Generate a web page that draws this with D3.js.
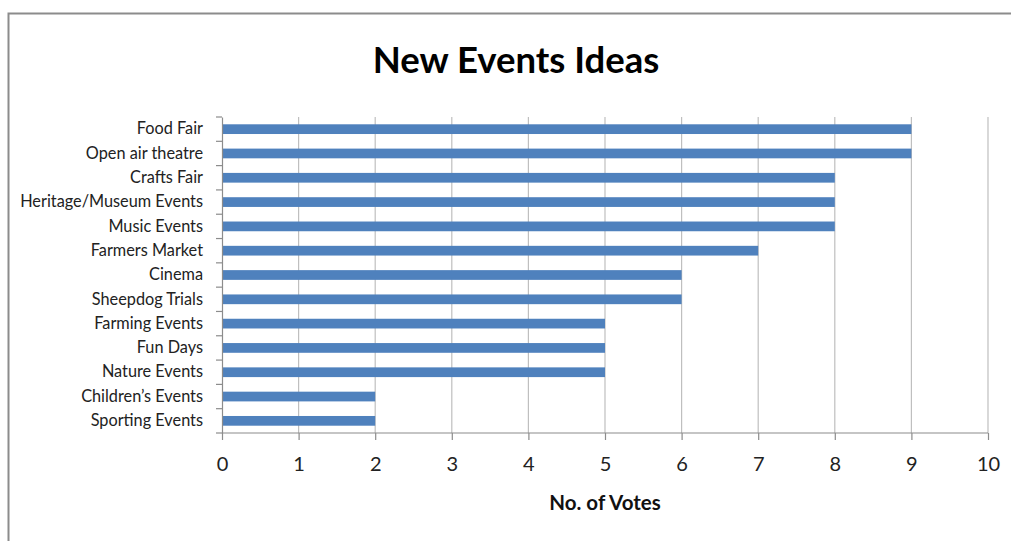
<!DOCTYPE html>
<html><head><meta charset="utf-8">
<script src="https://cdn.jsdelivr.net/npm/d3@7"></script>
<style>body{margin:0;background:#fff;} svg{display:block;}</style>
</head><body>
<script>
const categories = ["Food Fair","Open air theatre","Crafts Fair","Heritage/Museum Events","Music Events","Farmers Market","Cinema","Sheepdog Trials","Farming Events","Fun Days","Nature Events","Children’s Events","Sporting Events"];
const votes = [9,9,8,8,8,7,6,6,5,5,5,2,2];
const xTicks = [0,1,2,3,4,5,6,7,8,9,10];
const title = "New Events Ideas";
const xTitle = "No. of Votes";

const W = 1011, H = 541;
const svg = d3.select("body").append("svg").attr("width", W).attr("height", H);
const font = "Lato, 'Open Sans', sans-serif";

// outer frame
svg.append("rect").attr("x", 8.5).attr("y", 13.5).attr("width", 1100).attr("height", 600)
  .attr("fill", "none").attr("stroke", "#8c8c8c").attr("stroke-width", 2);

const x = d3.scaleLinear().domain([0, 10]).range([222, 988]);
const y = d3.scaleBand().domain(categories).range([117, 433]).paddingInner(0.6).paddingOuter(0.3);
const yb = d3.scaleBand().domain(categories).range([117, 433]);

// gridlines
svg.append("g").selectAll("line").data(xTicks.slice(1)).join("line")
  .attr("x1", d => x(d)).attr("x2", d => x(d)).attr("y1", 117).attr("y2", 433)
  .attr("stroke", "#bfbfbf").attr("stroke-width", 1.2);

// bars
svg.append("g").selectAll("rect").data(categories).join("rect")
  .attr("x", x(0)).attr("y", (d) => y(d))
  .attr("width", (d, i) => x(votes[i]) - x(0)).attr("height", y.bandwidth())
  .attr("fill", "#4f81bd");

// x axis
const xa = svg.append("g").attr("transform", "translate(0,433)")
  .call(d3.axisBottom(x).tickValues(xTicks).tickSize(7).tickPadding(17).tickFormat(d3.format("d")));
xa.select(".domain").attr("stroke", "#8c8c8c").attr("stroke-width", 1.2).attr("d", `M${x(0)},0H${x(10)}`);
xa.selectAll(".tick line").attr("stroke", "#8c8c8c").attr("stroke-width", 1.2);
xa.selectAll(".tick text").attr("font-family", font).attr("font-size", 20).attr("fill", "#222");

// y axis
const ya = svg.append("g").attr("transform", `translate(${x(0)},0)`)
  .call(d3.axisLeft(yb).tickSize(0).tickPadding(19));
ya.select(".domain").attr("stroke", "#8c8c8c").attr("stroke-width", 1.2);
ya.selectAll(".tick text").attr("font-family", font).attr("font-size", 16.3).attr("fill", "#222");
// boundary tick marks
const bounds = categories.map(c => yb(c)).concat([433]);
ya.append("g").selectAll("line").data(bounds).join("line")
  .attr("x1", -6).attr("x2", 0).attr("y1", d => d).attr("y2", d => d)
  .attr("stroke", "#8c8c8c").attr("stroke-width", 1.2);

// titles
svg.append("text").attr("x", 516).attr("y", 73).attr("text-anchor", "middle")
  .attr("font-family", font).attr("font-weight", "bold").attr("font-size", 36.5).attr("fill", "#000").text(title);
svg.append("text").attr("x", 605).attr("y", 510).attr("text-anchor", "middle")
  .attr("font-family", font).attr("font-weight", "bold").attr("font-size", 20.5).attr("fill", "#111").text(xTitle);
</script>
</body></html>
